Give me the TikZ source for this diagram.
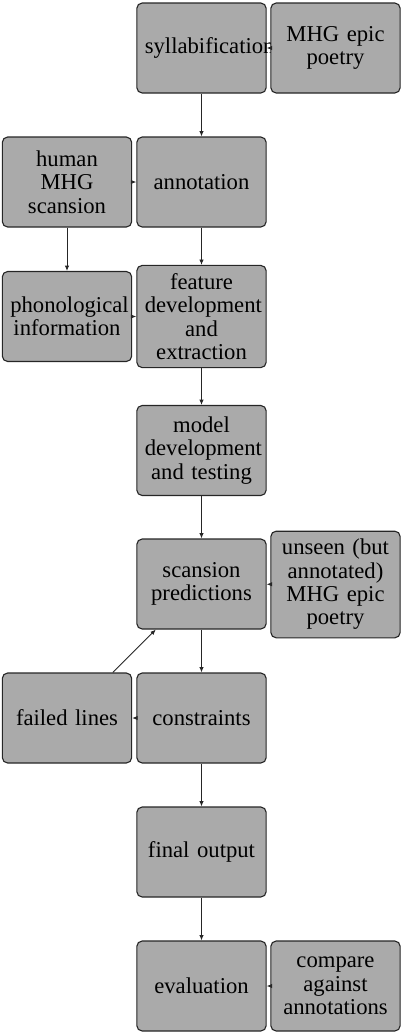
\documentclass[tikz,border=0pt]{standalone}
\usepackage{fontspec}
\setmainfont{Liberation Serif}
\usetikzlibrary{arrows.meta}
\definecolor{boxfill}{RGB}{170,170,170}
\hyphenpenalty=10000
\exhyphenpenalty=10000
\begin{document}
\hyphenpenalty=10000
\begin{tikzpicture}[x=0.45pt,y=-0.45pt,
  stepbox/.style={draw=black!85,line width=0.5pt,fill=boxfill,rounded corners=2.4pt,
    text width=51pt,inner sep=3.6pt,align=center,minimum height=40.5pt,
    font=\fontsize{10.2}{10.5}\selectfont},
  arr/.style={-{Latex[length=2.4pt,width=2pt]},line width=0.4pt,black!85}]
\useasboundingbox (0,0) rectangle (403,1035);
\node[stepbox] (syl) at (201.5,48) {syllabification};
\node[stepbox] (epic) at (335.5,48) {MHG epic poetry};
\node[stepbox] (ann) at (201.5,182) {annotation};
\node[stepbox] (human) at (67,182) {human MHG scansion};
\node[stepbox] (phon) at (67,316.5) {phonological information};
\node[stepbox] (feat) at (201.5,316.5) {feature development and extraction};
\node[stepbox] (model) at (201.5,450.5) {model development and testing};
\node[stepbox] (scan) at (201.5,584) {scansion predictions};
\node[stepbox] (unseen) at (335.5,584.5) {unseen (but annotated) MHG epic poetry};
\node[stepbox] (failed) at (67,718) {failed lines};
\node[stepbox] (cons) at (201.5,718) {constraints};
\node[stepbox] (final) at (201.5,852) {final output};
\node[stepbox] (eval) at (201.5,986) {evaluation};
\node[stepbox] (comp) at (335.5,986) {compare against annotations};
\draw[arr] (epic) -- (syl);
\draw[arr] (syl) -- (ann);
\draw[arr] (human) -- (ann);
\draw[arr] (human) -- (phon);
\draw[arr] (ann) -- (feat);
\draw[arr] (phon) -- (feat);
\draw[arr] (feat) -- (model);
\draw[arr] (model) -- (scan);
\draw[arr] (unseen) -- (scan);
\draw[arr] (scan) -- (cons);
\draw[arr] (cons) -- (failed);
\draw[arr] (failed) -- (scan);
\draw[arr] (cons) -- (final);
\draw[arr] (final) -- (eval);
\draw[arr] (comp) -- (eval);
\end{tikzpicture}
\end{document}
